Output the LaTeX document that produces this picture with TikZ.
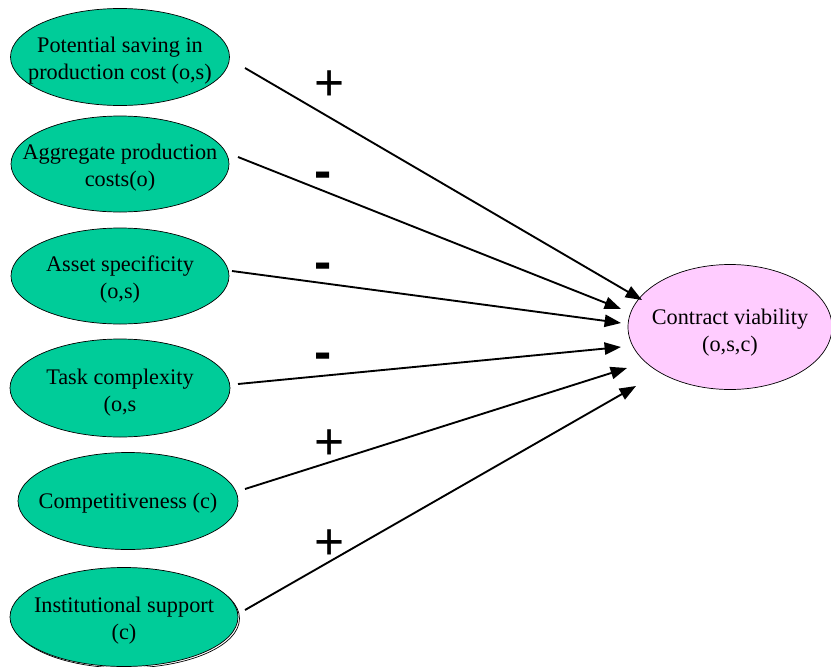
\documentclass[tikz,border=0pt]{standalone}
\usepackage{fontspec}
\setmainfont{Liberation Serif}
\newfontfamily\signfont{Liberation Sans}
\usetikzlibrary{shapes.geometric,arrows.meta}
\definecolor{factorgreen}{HTML}{00CC99}
\definecolor{outcomepink}{HTML}{FFCCFF}
\begin{document}
\begin{tikzpicture}[x=0.03cm,y=-0.03cm,
  factor/.style={ellipse,draw=black,line width=0.6pt,fill=factorgreen,inner sep=0pt},
  outcome/.style={ellipse,draw=black,line width=0.6pt,fill=outcomepink,inner sep=0pt},
  caption/.style={align=center,inner sep=0pt,font=\fontsize{19}{23}\selectfont},
  link/.style={line width=1.6pt,-{Triangle[length=14pt,width=10.5pt]}},
  plussign/.style={font=\signfont\fontsize{44}{44}\selectfont,inner sep=0pt},
  minussign/.style={font=\signfont\bfseries\fontsize{44}{44}\selectfont,inner sep=0pt}
]
\useasboundingbox (0,0) rectangle (831,667);

% cause factors: the ellipse, then its caption
\node[factor,minimum width=6.57cm,minimum height=2.91cm] (p1) at (120,57) {};
\node[caption] (p1t) at ([yshift=-3pt]p1.center) {Potential saving in\\production cost (o,s)};
\node[factor,minimum width=6.54cm,minimum height=2.88cm] (p2) at (120,164) {};
\node[caption] (p2t) at ([yshift=-3pt]p2.center) {Aggregate production\\costs(o)};
\node[factor,minimum width=6.54cm,minimum height=2.88cm] (p3) at (120,276) {};
\node[caption] (p3t) at ([yshift=-3.4pt]p3.center) {Asset specificity\\(o,s)};
\node[factor,minimum width=6.6cm,minimum height=2.94cm] (p4) at (120,388) {};
\node[caption] (p4t) at ([yshift=-4pt]p4.center) {Task complexity\\(o,s};
\node[factor,minimum width=6.6cm,minimum height=2.91cm] (p5) at (128,501) {};
\node[caption] (p5t) at ([yshift=-1.7pt]p5.center) {Competitiveness (c)};
\draw[line width=0.6pt] (125.5,618.5) ellipse (114 and 49.5);
\node[factor,minimum width=6.84cm,minimum height=2.97cm] (p6) at (124,617) {};
\node[caption] (p6t) at ([yshift=-3.4pt]p6.center) {Institutional support\\(c)};

% outcome
\node[outcome,minimum width=6.12cm,minimum height=3.75cm] (cv) at (730,327) {};
\node[caption] (cvt) at ([yshift=-4.7pt]cv.center) {Contract viability\\(o,s,c)};

% connector ends
\coordinate (p1o) at (245,68);  \coordinate (cv1) at (642,300);
\coordinate (p2o) at (238,157); \coordinate (cv2) at (621,309);
\coordinate (p3o) at (232,271); \coordinate (cv3) at (621,323);
\coordinate (p4o) at (238,384); \coordinate (cv4) at (621,347);
\coordinate (p5o) at (245,489); \coordinate (cv5) at (627,368);
\coordinate (p6o) at (245,610); \coordinate (cv6) at (636,386);

\draw[link] (p1o) -- (cv1);
\draw[link] (p2o) -- (cv2);
\draw[link] (p3o) -- (cv3);
\draw[link] (p4o) -- (cv4);
\draw[link] (p5o) -- (cv5);
\draw[link] (p6o) -- (cv6);

% effect signs
\node[plussign] (s1) at (330,86) {+};
\node[minussign] (s2) at (323,180) {-};
\node[minussign] (s3) at (323,271) {-};
\node[minussign] (s4) at (323,361) {-};
\node[plussign] (s5) at (330,445) {+};
\node[plussign] (s6) at (330,545) {+};
\end{tikzpicture}
\end{document}
